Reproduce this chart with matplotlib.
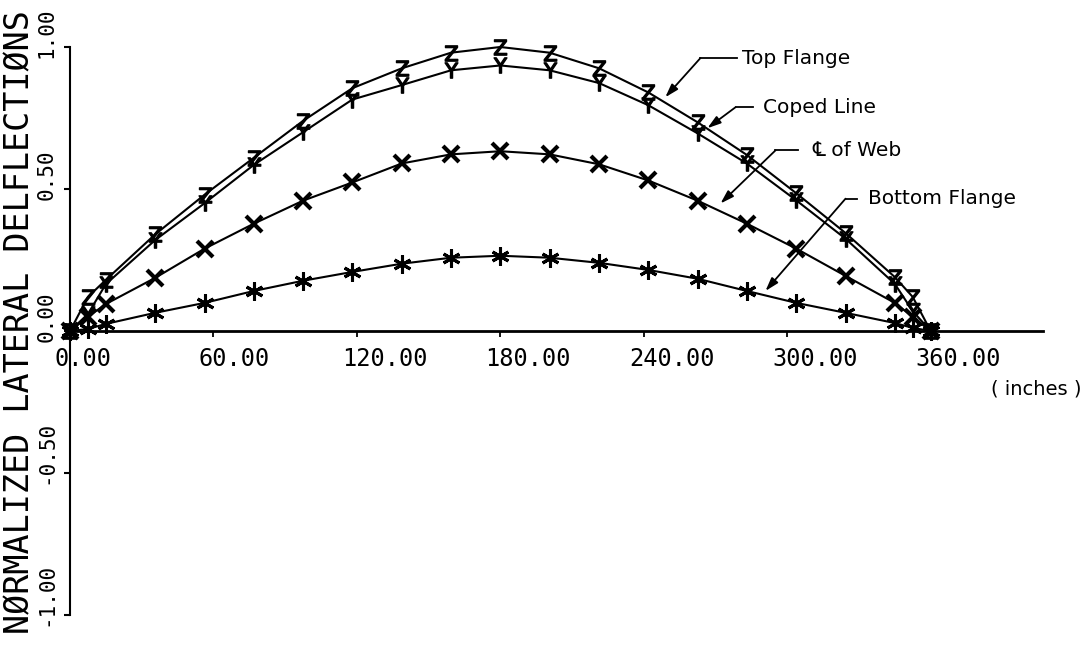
import matplotlib
matplotlib.use("Agg")
import matplotlib.pyplot as plt
import matplotlib.transforms as mtransforms

# stations along the beam (inches)
stations = [0, 7.5, 15, 35.6, 56.3, 76.9, 97.5, 118.1, 138.8, 159.4, 180,
            200.6, 221.3, 241.9, 262.5, 283.1, 303.8, 324.4, 345, 352.5, 360]

top_flange = [0, 0.12, 0.18, 0.34, 0.48, 0.61, 0.74, 0.855, 0.925, 0.98, 1.0,
              0.98, 0.925, 0.84, 0.735, 0.62, 0.485, 0.345, 0.19, 0.12, 0]
coped_line = [0, 0.06, 0.165, 0.32, 0.45, 0.585, 0.70, 0.815, 0.866, 0.918, 0.935,
              0.918, 0.873, 0.795, 0.696, 0.59, 0.46, 0.325, 0.166, 0.07, 0]
web_cl = [0, 0.05, 0.095, 0.187, 0.29, 0.378, 0.459, 0.523, 0.59, 0.622, 0.633,
          0.622, 0.587, 0.53, 0.459, 0.378, 0.29, 0.194, 0.099, 0.05, 0]
bottom_flange = [0, 0.007, 0.025, 0.064, 0.099, 0.141, 0.177, 0.208, 0.237, 0.258, 0.265,
                 0.258, 0.24, 0.215, 0.184, 0.141, 0.099, 0.064, 0.028, 0.011, 0]

x_ticks = [0, 60, 120, 180, 240, 300, 360]
x_labels = ["0.00", "60.00", "120.00", "180.00", "240.00", "300.00", "360.00"]
y_ticks = [-1.0, -0.5, 0.0, 0.5, 1.0]
y_labels = ["-1.00", "-0.50", "0.00", "0.50", "1.00"]

W, H = 1091, 645
fig = plt.figure(figsize=(W / 100, H / 100), dpi=100)
ax = fig.add_axes([70 / W, 30 / H, (1043 - 70) / W, (615 - 47) / H])
ax.set_xlim(0, 407)
ax.set_ylim(-1, 1)

lw = 1.5
ax.plot(stations, top_flange, color="black", lw=lw, marker=r"$\mathsf{Z}$", ms=11, clip_on=False)
ax.plot(stations, coped_line, color="black", lw=lw, marker=r"$\mathsf{Y}$", ms=11, clip_on=False)
ax.plot(stations, web_cl, color="black", lw=lw, marker="x", ms=11, mew=3, clip_on=False)
ax.plot(stations, bottom_flange, color="black", lw=lw, marker=(6, 2, 0), ms=13, mew=2.2, clip_on=False)

# axes in the old plotter style
for s in ["top", "right"]:
    ax.spines[s].set_visible(False)
ax.spines["bottom"].set_position(("data", 0))
ax.spines["bottom"].set_linewidth(2)
ax.spines["left"].set_linewidth(1.5)

mono = "DejaVu Sans Mono"
ax.set_xticks(x_ticks)
ax.set_xticklabels(x_labels, fontsize=17, family=mono)
ax.set_yticks(y_ticks)
ax.set_yticklabels(y_labels, fontsize=15, family=mono, rotation=90, va="bottom")
ax.tick_params(axis="x", direction="out", length=4.5, width=1.3, pad=7)
ax.tick_params(axis="y", direction="out", length=4.5, width=1.5, pad=5)

dx = mtransforms.ScaledTranslation(-15 / 100, 0, fig.dpi_scale_trans)
for lab in ax.get_xticklabels():
    lab.set_ha("left")
    lab.set_transform(lab.get_transform() + dx)
dy = mtransforms.ScaledTranslation(0, -11 / 100, fig.dpi_scale_trans)
for lab in ax.get_yticklabels():
    lab.set_transform(lab.get_transform() + dy)

fig.text(20 / W, 1 - 322 / H, "NØRMALIZED LATERAL DELFLECTIØNS", rotation=90,
         ha="center", va="center", fontsize=24, family=mono)

ax.text(404, -0.205, "( inches )", ha="center", va="center", fontsize=14)

# leader callouts: (text, arrow tip, elbow, end of horizontal, text x)
callouts = [
    ("Top Flange", (249, 0.823), (263.7, 0.961), 279.2, 281.3),
    ("Coped Line", (266.6, 0.714), (278.4, 0.788), 285.5, 290.0),
    ("\u2104 of Web", (272.1, 0.449), (295.1, 0.636), 304.7, 310.6),
    ("Bottom Flange", (290.9, 0.141), (324.4, 0.466), 329.4, 334.0),
]
for label, tip, elbow, hend, tx in callouts:
    ax.plot([elbow[0], hend], [elbow[1], elbow[1]], color="black", lw=1.3)
    ax.annotate("", xy=tip, xytext=elbow,
                arrowprops=dict(arrowstyle="-|>,head_length=0.8,head_width=0.25",
                                color="black", lw=1.3, shrinkA=0, shrinkB=0))
    ax.text(tx, elbow[1], label, ha="left", va="center", fontsize=14.5)

fig.savefig("out.png", dpi=100)
